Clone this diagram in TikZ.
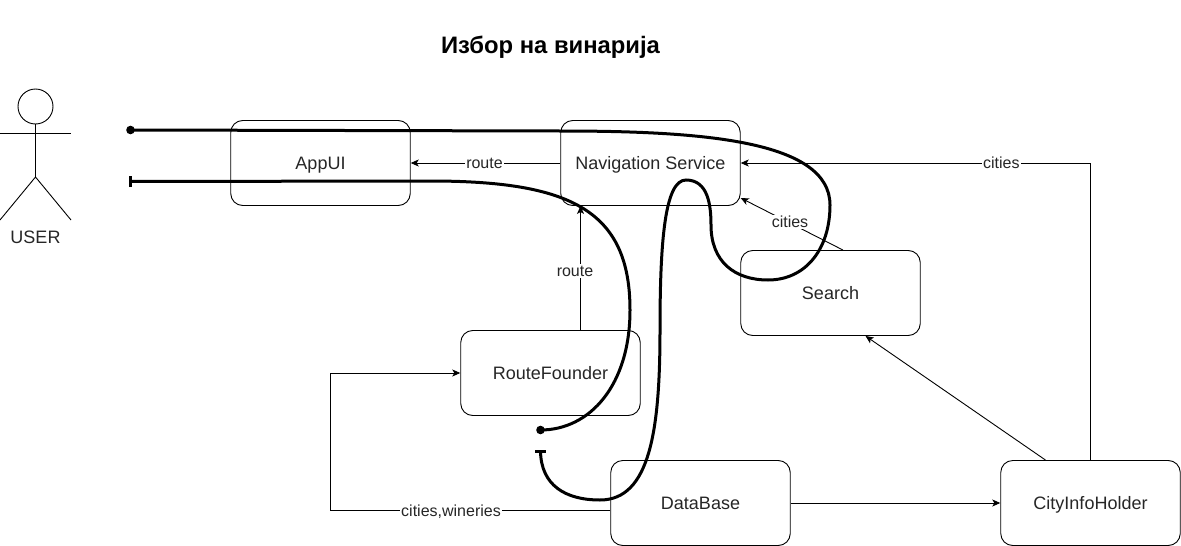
\documentclass[tikz,border=0pt]{standalone}
\usepackage{fontspec}
\setmainfont{Liberation Sans}
\usetikzlibrary{arrows.meta,calc}
\tikzset{
  x=1pt,y=-1pt,
  box/.style={draw=black,line width=0.9pt,rounded corners=12pt,minimum width=179.5pt,minimum height=85pt,inner sep=0pt,font=\fontsize{18}{20}\selectfont,text=black!85,text height=14pt,text depth=2pt},
  conn/.style={draw=black,line width=0.9pt,-{Stealth[length=8pt,width=7pt,inset=2pt]}},
  lbl/.style={fill=white,inner sep=1pt,font=\fontsize{16}{18}\selectfont,text=black!85,text height=11.5pt,text depth=0.5pt},
  heavy/.style={draw=black,line width=3pt},
  limb/.style={draw=black,line width=0.9pt}
}
\begin{document}
\begin{tikzpicture}
\useasboundingbox (0,0) rectangle (1181,546);
\node[font=\fontsize{23.8}{26}\selectfont\bfseries] (title) at (550.5,47.5) {Избор на винарија};

% boxes
\node[box] (app) at (320.5,163) {AppUI};
\node[box] (nav) at (650.5,163) {Navigation Service};
\node[box] (search) at (830.5,293) {Search};
\node[box] (rf) at (550.5,373) {RouteFounder};
\node[box] (db) at (700.5,503) {DataBase};
\node[box] (city) at (1090.5,503) {CityInfoHolder};

% user
\node[draw=black,line width=0.9pt,circle,minimum size=35pt,inner sep=0pt] (head) at (35.5,106.5) {};
\coordinate (hip) at (35.5,177);
\coordinate (armL) at (0,133.5);
\coordinate (armR) at (71,133.5);
\coordinate (footL) at (0,220);
\coordinate (footR) at (71,220);
\draw[limb] (head.south) -- (hip);
\draw[limb] (armL) -- (armR);
\draw[limb] (footL) -- (hip) -- (footR);
\node[font=\fontsize{18}{20}\selectfont,text=black!85] (user) at (35.5,237) {USER};

% thin connectors
\draw[conn] (nav.west) -- node[lbl,xshift=-1pt] (l1) {route} (app.east);
\draw[conn] ([xshift=30pt]rf.north) -- ([xshift=-70pt]nav.south);
\node[lbl] (l2) at (575,270.5) {route};
\draw[conn] ([xshift=12.5pt]search.north) -- ([yshift=-35pt]nav.east);
\node[lbl] (l3) at (790,221.5) {cities};
\draw[conn] (city.north) -- (city.north |- nav.east) -- node[lbl,pos=0.255] (l4) {cities} (nav.east);
\draw[conn] ([xshift=-45pt]city.north) -- ([xshift=35pt]search.south);
\draw[conn] (db.east) -- (city.west);
\draw[conn] ([yshift=-7pt]db.west) -- (330.5,510) -- (330.5,373) -- (rf.west);
\node[lbl] (l5) at (451,510.5) {cities,wineries};

% heavy curves
\coordinate (dotA) at (130.5,130);
\coordinate (barA) at (130.5,181.5);
\coordinate (dotB) at (540.5,430);
\coordinate (barB) at (540.5,451);
\draw[heavy] (dotA) -- (560,131)
  .. controls (700,131) and (830,140) .. (830,205)
  .. controls (830,250) and (805,280) .. (768,280)
  .. controls (735,280) and (711,262) .. (711,225)
  .. controls (711,205) and (708,180) .. (686,180)
  .. controls (665,180) and (660,240) .. (660,330)
  .. controls (660,430) and (650,500) .. (600,500)
  .. controls (565,500) and (541,485) .. (540.5,451);
\draw[heavy] (barA) -- (430,181)
  .. controls (570,181) and (630,210) .. (630,310)
  .. controls (630,385) and (590,430) .. (dotB);
\fill (dotA) circle (4.3pt);
\fill (dotB) circle (4.3pt);
\draw[line width=3pt] ([yshift=-5.5pt]barA) -- ([yshift=5.5pt]barA);
\draw[line width=3pt] ([xshift=-5.5pt]barB) -- ([xshift=5.5pt]barB);
\end{tikzpicture}
\end{document}
